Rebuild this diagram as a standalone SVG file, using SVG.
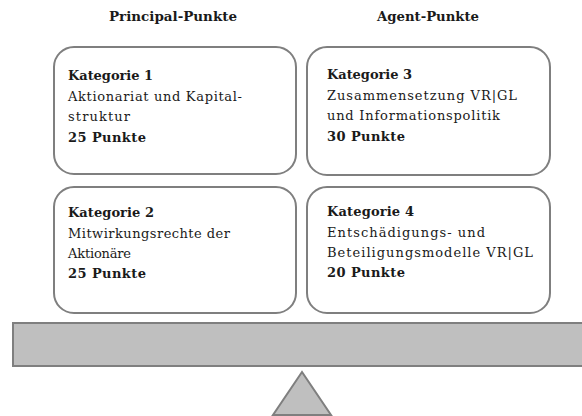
<svg xmlns="http://www.w3.org/2000/svg" width="582" height="416" viewBox="0 0 582 416">
<style>
.box{fill:#ffffff;stroke:#7f7f7f;stroke-width:2}
.beam{fill:#bfbfbf;stroke:#7f7f7f;stroke-width:2}
text{font-family:"DejaVu Serif","Liberation Serif",serif;font-size:13px;fill:#1a1a1a}
.b{font-weight:bold}
.h{font-weight:bold}
</style>
<g id="header-principal"><text class="h" x="109" y="21" textLength="128" lengthAdjust="spacingAndGlyphs">Principal-Punkte</text></g>
<g id="header-agent"><text class="h" x="377" y="21" textLength="102" lengthAdjust="spacingAndGlyphs">Agent-Punkte</text></g>
<g id="kategorie1">
<rect class="box" x="54" y="47" width="242" height="127" rx="20"/>
<text class="b" x="68" y="80" textLength="85" lengthAdjust="spacing">Kategorie 1</text>
<text x="68" y="101" textLength="174" lengthAdjust="spacing">Aktionariat und Kapital-</text>
<text x="68" y="121" textLength="62" lengthAdjust="spacing">struktur</text>
<text class="b" x="68" y="142" textLength="78" lengthAdjust="spacing">25 Punkte</text>
</g>
<g id="kategorie3">
<rect class="box" x="307" y="47" width="243" height="128" rx="20"/>
<text class="b" x="327" y="79" textLength="85" lengthAdjust="spacing">Kategorie 3</text>
<text x="327" y="100" textLength="190" lengthAdjust="spacing">Zusammensetzung VR|GL</text>
<text x="327" y="120" textLength="173" lengthAdjust="spacing">und Informationspolitik</text>
<text class="b" x="327" y="141" textLength="78" lengthAdjust="spacing">30 Punkte</text>
</g>
<g id="kategorie2">
<rect class="box" x="54" y="187" width="242" height="126" rx="20"/>
<text class="b" x="68" y="217" textLength="86" lengthAdjust="spacing">Kategorie 2</text>
<text x="68" y="238" textLength="162" lengthAdjust="spacing">Mitwirkungsrechte der</text>
<text x="68" y="258" textLength="63" lengthAdjust="spacing">Aktionäre</text>
<text class="b" x="68" y="278" textLength="78" lengthAdjust="spacing">25 Punkte</text>
</g>
<g id="kategorie4">
<rect class="box" x="307" y="187" width="243" height="126" rx="20"/>
<text class="b" x="327" y="216" textLength="87" lengthAdjust="spacing">Kategorie 4</text>
<text x="327" y="237" textLength="158" lengthAdjust="spacing">Entschädigungs- und</text>
<text x="327" y="257" textLength="206" lengthAdjust="spacing">Beteiligungsmodelle VR|GL</text>
<text class="b" x="327" y="277" textLength="78" lengthAdjust="spacing">20 Punkte</text>
</g>
<g id="waage">
<rect class="beam" x="13" y="323" width="572" height="43"/>
<polygon class="beam" points="302,372 273,415 331,415"/>
</g>
<g id="connectors"></g>
</svg>
